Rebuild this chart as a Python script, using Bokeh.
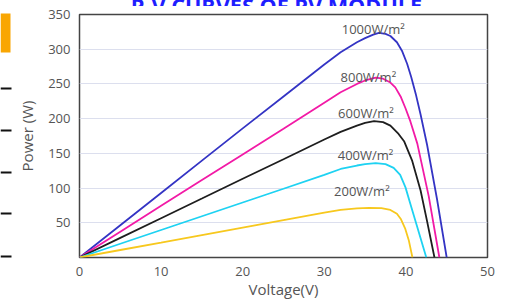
from bokeh.plotting import figure
from bokeh.layouts import column, row
from bokeh.models import Range1d, FixedTicker, Label, GlobalInlineStyleSheet
from bokeh.core.properties import value
from bokeh.embed import file_html
from bokeh.resources import INLINE

# Voltage (V) / Power (W) points
v1000 = [0, 5, 10, 15, 20, 25, 30, 32, 34, 35, 36, 36.7, 37.5, 38.1, 38.9, 39.55, 40.15, 40.65, 41.2, 41.8, 42.6, 43.8, 45.0]
p1000 = [0, 46.5, 93, 139.5, 186, 232, 278, 295.5, 310, 316, 321, 323.5, 322, 319, 310, 297, 279, 260, 236, 206, 162, 85, 0]

v800 = [0, 5, 10, 15, 20, 25, 30, 32, 34, 35, 36.3, 37.2, 38.1, 38.7, 39.35, 39.95, 40.55, 41.4, 42.8, 44.1]
p800 = [0, 37.2, 74.4, 111.5, 148.5, 185.5, 223, 238, 250, 255, 259, 257.5, 252, 245, 232, 215, 196, 164, 88, 0]

v600 = [0, 5, 10, 15, 20, 25, 30, 32, 34, 35, 36.1, 37.2, 38.1, 39.1, 39.8, 40.75, 41.8, 42.6, 43.5]
p600 = [0, 28.3, 56.6, 85, 113.5, 141.5, 170, 181, 190, 194, 196.3, 195, 190, 178, 167, 140, 96.5, 52, 0]

v400 = [0, 5, 10, 15, 20, 25, 30, 32, 34, 35, 36.3, 37.5, 38.5, 39.3, 39.95, 40.55, 41.4, 42.0, 42.5]
p400 = [0, 19.8, 39.6, 59.4, 79.2, 99, 119, 127.5, 132.5, 134.5, 136, 134.5, 129, 119, 101, 77, 43.6, 19.7, 0]

v200 = [0, 5, 10, 15, 20, 25, 30, 32, 34, 35.5, 37, 38.1, 38.9, 39.4, 39.9, 40.35, 40.8]
p200 = [0, 10.8, 21.5, 32.3, 43, 53.8, 64.5, 68.7, 70.8, 71.5, 71, 68.5, 63, 55, 42, 25, 0]

series = [
    (v1000, p1000, "#3434c4", "1000W/m²", 36.0, 328.4),
    (v800, p800, "#f21aa6", "800W/m²", 35.4, 260.0),
    (v600, p600, "#1e1e1e", "600W/m²", 35.1, 208.0),
    (v400, p400, "#1ed2f2", "400W/m²", 35.05, 148.0),
    (v200, p200, "#f7c81e", "200W/m²", 34.6, 95.8),
]

x_ticks = [0, 10, 20, 30, 40, 50]
y_ticks = [50, 100, 150, 200, 250, 300, 350]
grid_lines = [50, 100, 150, 200, 250, 300]

title_text = "P-V CURVES OF PV MODULE"

FONT = "Open Sans"


def bare(width, height, xr, yr):
    f = figure(width=width, height=height, output_backend="svg", toolbar_location=None,
               x_range=Range1d(*xr), y_range=Range1d(*yr), x_axis_type=None, y_axis_type=None,
               min_border=0, min_border_left=0, min_border_right=0, min_border_top=0, min_border_bottom=0,
               frame_align=False)
    f.grid.visible = False
    f.outline_line_color = None
    f.background_fill_color = "white"
    f.border_fill_color = "white"
    return f


# strip with the page title, mostly scrolled above the window (only its bottom shows)
top = bare(505, 30, (0, 505), (0, 30))
top.text(x=[276], y=[1], text=[title_text], text_align="center", text_baseline="alphabetic",
         text_font=value(FONT), text_font_style="bold", text_font_size="21.7px", text_color="#1e1eff")

# narrow strip of page decorations at the left edge
side = bare(12, 311, (0, 12), (317, 6))
side.quad(left=[0], right=[10], top=[13], bottom=[52], fill_color="#f9a602", line_color=None)
stub_y = [88, 130, 172, 213, 256]
side.segment(x0=[0] * len(stub_y), x1=[11] * len(stub_y), y0=stub_y, y1=stub_y,
             line_color="#111111", line_width=2)

p = figure(width=493, height=311, output_backend="svg", toolbar_location=None,
           x_range=Range1d(0, 50), y_range=Range1d(0, 350), frame_align=False,
           min_border_left=67, min_border_right=18, min_border_top=8, min_border_bottom=60)

p.outline_line_color = "#444444"
p.outline_line_width = 1.5
p.background_fill_color = "white"
p.border_fill_color = "white"

p.xgrid.grid_line_color = None
p.ygrid.ticker = FixedTicker(ticks=grid_lines)
p.ygrid.grid_line_color = "#dcdfee"
p.ygrid.grid_line_width = 1

p.xaxis.ticker = FixedTicker(ticks=x_ticks)
p.yaxis.ticker = FixedTicker(ticks=y_ticks)
for ax in (p.xaxis[0], p.yaxis[0]):
    ax.axis_line_color = None
    ax.major_tick_line_color = None
    ax.minor_tick_line_color = None
    ax.major_tick_out = 0
    ax.major_tick_in = 0
    ax.minor_tick_out = 0
    ax.minor_tick_in = 0
    ax.major_label_text_font = FONT
    ax.major_label_text_font_size = "13px"
    ax.major_label_text_color = "#555555"
    ax.axis_label_text_font = FONT
    ax.axis_label_text_font_style = "normal"
    ax.axis_label_text_font_size = "15px"
    ax.axis_label_text_color = "#555555"
p.xaxis.major_label_standoff = 9
p.yaxis.major_label_standoff = 9
p.xaxis.axis_label = "Voltage(V)"
p.yaxis.axis_label = "Power (W)"
p.xaxis.axis_label_standoff = 0
p.yaxis.axis_label_standoff = 8

for vx, py, col, lab, lx, ly in series:
    p.line(vx, py, line_color=col, line_width=1.8)
    p.add_layout(Label(x=lx, y=ly, text=lab, text_align="center", text_baseline="middle",
                       text_font=FONT, text_font_size="13px", text_color="#555555"))

layout = column(top, row(side, p, spacing=0), spacing=0)
layout.stylesheets = [GlobalInlineStyleSheet(
    css="html { margin: 0 !important; overflow: hidden !important; } "
        "body { margin: -24px 0 0 0 !important; height: auto !important; overflow: visible !important; }")]

open("out.html", "w").write(file_html(layout, INLINE))
